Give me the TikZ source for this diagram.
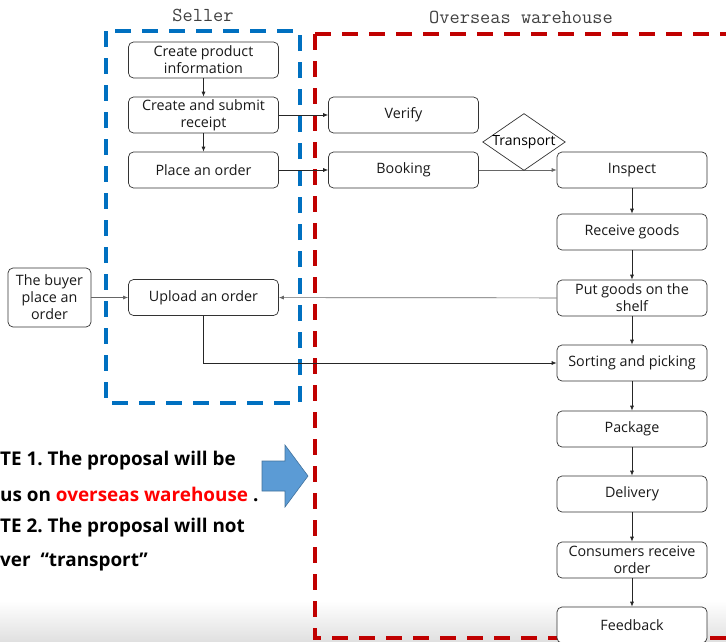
\documentclass[tikz,border=0pt]{standalone}
\usepackage{fontspec}
\setmainfont{Open Sans}
\frenchspacing
\usetikzlibrary{arrows.meta,shapes.geometric}
\definecolor{sellerblue}{RGB}{0,112,192}
\definecolor{whred}{RGB}{192,0,0}
\definecolor{arrowfill}{RGB}{91,155,213}
\definecolor{arrowedge}{RGB}{65,113,156}
\definecolor{notered}{RGB}{255,0,0}
\tikzset{
  box/.style={draw=black!80, line width=0.7pt, rounded corners=5pt, fill=white,
    minimum width=150pt, minimum height=36pt, align=center, inner sep=1pt,
    font=\fontsize{14.3}{17}\selectfont, text=black!90},
  decision/.style={draw=black!80, line width=0.7pt, diamond, aspect=1.45, fill=white,
    inner sep=0pt, font=\fontsize{14}{16}\selectfont},
  flow/.style={draw=black!85, line width=0.7pt, -{Latex[length=5pt,width=4pt]}},
  flowgray/.style={flow, draw=black!60},
  frame/.style={line width=3.5pt, dash pattern=on 16pt off 11pt},
  title/.style={font=\fontsize{19.8}{20}\ttfamily, text=black!75},
  note/.style={font=\fontsize{18.9}{20}\selectfont\bfseries, anchor=west, inner sep=0pt}
}
\begin{document}
\begin{tikzpicture}[x=1pt,y=-1pt]
\useasboundingbox (0,0) rectangle (726,641);
\begin{scope}
\clip (0,0) rectangle (726,641);
% soft grey band along the bottom
\shade[top color=white, bottom color=black!12] (0,601) rectangle (726,641);

% swimlane frames
\draw[frame, draw=whred] (315,34) -- (315,638) -- (745,638);
\draw[frame, draw=whred] (315,34) -- (745,34);
\draw[frame, draw=sellerblue] (106,31) rectangle (300,403);

% lane titles
\node[title] (tseller) at (203,15) {Seller};
\node[title] (twh) at (521,17) {Overseas warehouse};

% seller steps
\node[box] (cpi) at (203.5,60) {Create product\\information};
\node[box] (csr) at (203.5,115) {Create and submit\\receipt};
\node[box] (pao) at (203.5,170) {Place an order};
\node[box] (upl) at (203.5,297.5) {Upload an order};
\node[box, minimum width=83pt, minimum height=59pt] (buyer) at (49.5,297.5) {The buyer\\place an\\order};

% warehouse steps
\node[box] (ver) at (403.5,115) {Verify};
\node[box] (book) at (403.5,170) {Booking};
\node[box] (insp) at (632,170) {Inspect};
\node[box] (recv) at (632,232) {Receive goods};
\node[box] (shelf) at (632,298) {Put goods on the\\shelf};
\node[box] (sort) at (632,363) {Sorting and picking};
\node[box] (pack) at (632,429) {Package};
\node[box] (deliv) at (632,494) {Delivery};
\node[box] (cons) at (632,560) {Consumers receive\\order};
\node[box] (fb) at (632,625) {Feedback};

% connectors
\draw[flow] (cpi) -- (csr);
\draw[flow] (csr) -- (pao);
\draw[flow] (csr) -- (ver);
\draw[flow] (pao) -- (book);
\draw[flowgray] (book) -- (insp);
\draw[flow] (insp) -- (recv);
\draw[flow] (recv) -- (shelf);
\draw[flow] (shelf) -- (sort);
\draw[flow] (sort) -- (pack);
\draw[flow] (pack) -- (deliv);
\draw[flow] (deliv) -- (cons);
\draw[flow] (cons) -- (fb);
\draw[flowgray] (buyer) -- (upl);
\draw[flowgray] (shelf) -- (upl);
\draw[flow] (upl.south) |- (sort.west);

% transport decision sitting on the booking line
\node[decision] (trans) at (524,142) {Transport};

% notes
\node[note] (n1) at (0,461) {TE 1. The proposal will be};
\node[note] (n2) at (0,494) {us on \textcolor{notered}{overseas warehouse} .};
\node[note] (n3) at (0,528) {TE 2. The proposal will not};
\node[note] (n4) at (0,562) {ver \ “transport”};

% block arrow pointing towards the warehouse lane
\draw[draw=arrowedge, fill=arrowfill, line width=0.6pt, line join=miter]
  (262,461) -- (285,461) -- (285,445) -- (308,476) -- (285,507) -- (285,491) -- (262,491) -- cycle;
\end{scope}
\end{tikzpicture}
\end{document}
